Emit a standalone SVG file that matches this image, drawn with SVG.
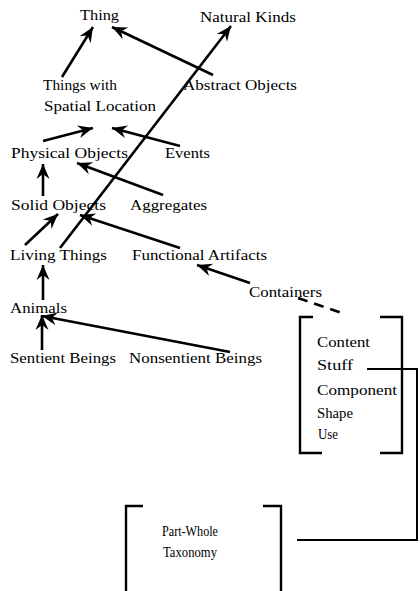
<svg xmlns="http://www.w3.org/2000/svg" width="420" height="591" viewBox="0 0 420 591">
<style>
text{font-family:"Liberation Serif","Times New Roman",serif;font-size:15px;fill:#000;}
.s{font-size:14px;}
.e{fill:none;stroke:#000;stroke-width:2.6;marker-end:url(#ah);}
.b{fill:none;stroke:#000;stroke-width:2.4;}
.l{fill:none;stroke:#000;stroke-width:2;}
.d{fill:none;stroke:#000;stroke-width:2.6;stroke-dasharray:10 7;}
</style>
<defs>
<marker id="ah" markerUnits="userSpaceOnUse" markerWidth="20" markerHeight="16" viewBox="-16 -8 20 16" refX="0" refY="0" orient="auto">
<path d="M0,0 L-15,-6.5 L-10,0 L-15,6.5 Z" fill="#000"/>
</marker>
</defs>
<rect width="420" height="591" fill="#fff"/>
<g id="connectors">
<line class="e" x1="62" y1="77" x2="93" y2="27"/>
<line class="e" x1="213" y1="75" x2="112" y2="27"/>
<line class="e" x1="60" y1="248" x2="231" y2="26"/>
<line class="e" x1="43" y1="141" x2="93" y2="128"/>
<line class="e" x1="180" y1="146" x2="112" y2="128"/>
<line class="e" x1="43" y1="196" x2="43" y2="164"/>
<line class="e" x1="163" y1="195" x2="77" y2="163"/>
<line class="e" x1="25" y1="245" x2="58" y2="214"/>
<line class="e" x1="180" y1="248" x2="80" y2="215"/>
<line class="e" x1="250" y1="283" x2="197" y2="265"/>
<line class="e" x1="43" y1="300" x2="43" y2="265"/>
<line class="e" x1="42" y1="350" x2="42" y2="315"/>
<line class="e" x1="230" y1="352" x2="42" y2="316"/>
<line class="d" x1="298" y1="298" x2="342" y2="313"/>
<polyline class="l" points="367,369 417,369 417,540 297,540"/>
</g>
<g id="thing"><text x="80" y="20" textLength="39" lengthAdjust="spacingAndGlyphs">Thing</text></g>
<g id="natural-kinds"><text x="200" y="22" textLength="96" lengthAdjust="spacingAndGlyphs">Natural Kinds</text></g>
<g id="things-with-spatial-location">
<text x="43" y="90" textLength="74" lengthAdjust="spacingAndGlyphs">Things with</text>
<text x="44" y="111" textLength="112" lengthAdjust="spacingAndGlyphs">Spatial Location</text>
</g>
<g id="abstract-objects"><text x="183" y="90" textLength="114" lengthAdjust="spacingAndGlyphs">Abstract Objects</text></g>
<g id="physical-objects"><text x="11" y="158" textLength="117" lengthAdjust="spacingAndGlyphs">Physical  Objects</text></g>
<g id="events"><text x="165" y="158" textLength="45" lengthAdjust="spacingAndGlyphs">Events</text></g>
<g id="solid-objects"><text x="11" y="210" textLength="95" lengthAdjust="spacingAndGlyphs">Solid  Objects</text></g>
<g id="aggregates"><text x="130" y="210" textLength="77" lengthAdjust="spacingAndGlyphs">Aggregates</text></g>
<g id="living-things"><text x="10" y="260" textLength="97" lengthAdjust="spacingAndGlyphs">Living Things</text></g>
<g id="functional-artifacts"><text x="132" y="260" textLength="135" lengthAdjust="spacingAndGlyphs">Functional Artifacts</text></g>
<g id="containers"><text x="249" y="297" textLength="73" lengthAdjust="spacingAndGlyphs">Containers</text></g>
<g id="animals"><text x="10" y="313" textLength="57" lengthAdjust="spacingAndGlyphs">Animals</text></g>
<g id="sentient-beings"><text x="10" y="363" textLength="106" lengthAdjust="spacingAndGlyphs">Sentient Beings</text></g>
<g id="nonsentient-beings"><text x="129" y="363" textLength="133" lengthAdjust="spacingAndGlyphs">Nonsentient Beings</text></g>
<g id="roles">
<path class="b" d="M313,317 H300 V453 H322 M380,317 H402 V453 H380"/>
<text x="317" y="347" textLength="53" lengthAdjust="spacingAndGlyphs">Content</text>
<text x="317" y="370" textLength="36" lengthAdjust="spacingAndGlyphs">Stuff</text>
<text x="317" y="395" textLength="80" lengthAdjust="spacingAndGlyphs">Component</text>
<text x="317" y="418" textLength="36" lengthAdjust="spacingAndGlyphs">Shape</text>
<text x="318" y="439" class="s" textLength="20" lengthAdjust="spacingAndGlyphs">Use</text>
</g>
<g id="part-whole-taxonomy">
<path class="b" d="M143,506 H126 V591 M263,506 H281 V591"/>
<text x="162" y="536" class="s" textLength="56" lengthAdjust="spacingAndGlyphs">Part-Whole</text>
<text x="163" y="557" class="s" textLength="54" lengthAdjust="spacingAndGlyphs">Taxonomy</text>
</g>
</svg>
